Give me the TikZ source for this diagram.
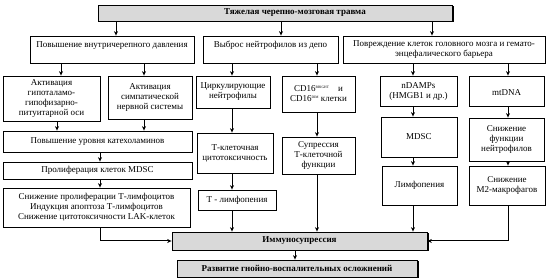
\documentclass[tikz,border=0pt]{standalone}
\usepackage{fontspec}
\setmainfont{Liberation Serif}
\usetikzlibrary{arrows.meta,shadows}
\begin{document}
\begin{tikzpicture}[x=1pt,y=-1pt,
  base/.style={draw, line width=0.8pt, inner sep=0pt, align=center},
  box/.style={base, fill=white, font=\fontsize{9}{10}\selectfont,
    drop shadow={shadow xshift=1pt, shadow yshift=-1pt, opacity=1, fill=black}},
  gbox/.style={base, fill=black!15, font=\fontsize{9}{10}\selectfont\bfseries,
    drop shadow={shadow xshift=1.5pt, shadow yshift=-1.5pt, opacity=1, fill=black}},
  arr/.style={line width=1pt, -{Stealth[length=4.5pt,width=4pt]}}]
\useasboundingbox (0,0) rectangle (550,280);
\newcommand\sups[1]{\raisebox{3.5pt}{\fontsize{3.6}{4}\selectfont #1}}

% top
\node[gbox, minimum width=354, minimum height=16] (top) at (275,13) {\hspace*{40pt}Тяжелая черепно-мозговая травма};
% row 2
\node[box, minimum width=164, minimum height=27] (A) at (112,49.5) {Повышение внутричерепного давления\\~};
\node[box, minimum width=135, minimum height=27] (B) at (270.5,49.5) {Выброс нейтрофилов из депо\\~};
\node[box, minimum width=202, minimum height=27] (C) at (444,49.5) {Повреждение клеток головного мозга и гемато-\\энцефалического барьера};
% row 3
\node[box, minimum width=97, minimum height=45] (act1) at (51.5,98.5) {Активация\\гипоталамо-\\гипофизарно-\\питуитарной оси};
\node[box, minimum width=84, minimum height=43] (act2) at (150,97.5) {Активация\\симпатической\\нервной системы};
\node[box, minimum width=74, minimum height=32] (circ) at (233,92) {Циркулирующие\\нейтрофилы};
\node[box, minimum width=73, minimum height=36] (cd) at (318.5,94) {CD16\sups{BRIGHT}\quad и\\CD16\sups{DIM}\ клетки};
\node[box, minimum width=77, minimum height=30] (nd) at (418.5,91) {nDAMPs\\(HMGB1 и др.)};
\node[box, minimum width=75, minimum height=30] (mt) at (506.5,91) {~\\mtDNA};
% left column
\node[box, minimum width=189, minimum height=21] (cat) at (97.5,141.5) {Повышение уровня катехоламинов};
\node[box, minimum width=189, minimum height=17] (pro) at (97.5,170.5) {Пролиферация клеток MDSC};
\node[box, minimum width=187, minimum height=39] (sn) at (96.5,207.5) {Снижение пролиферации Т-лимфоцитов\\Индукция апоптоза Т-лимфоцитов\\Снижение цитотоксичности LAK-клеток};
% middle
\node[box, minimum width=76, minimum height=40] (tc) at (235,153) {Т-клеточная\\цитотоксичность};
\node[box, minimum width=73, minimum height=37] (sup) at (318.5,155.5) {Супрессия\\Т-клеточной\\функции};
\node[box, minimum width=78, minimum height=20] (tl) at (237,200) {Т - лимфопения};
% right
\node[box, minimum width=76, minimum height=40] (md) at (419,137) {MDSC};
\node[box, minimum width=75, minimum height=43] (fn) at (506.5,139.5) {Снижение\\функции\\нейтрофилов};
\node[box, minimum width=75, minimum height=39] (ly) at (419.5,185.5) {Лимфопения};
\node[box, minimum width=76, minimum height=39] (m2) at (507,185.5) {Снижение\\М2-макрофагов};
% bottom
\node[gbox, minimum width=255, minimum height=18] (imm) at (299.5,241) {Иммуносупрессия};
\node[gbox, minimum width=240, minimum height=17] (dev) at (297,268.5) {Развитие гнойно-воспалительных осложнений};

\coordinate (cA) at (116,0);
\coordinate (cB) at (281,0);
\coordinate (cC) at (432,0);
\coordinate (c61) at (61,0);
\coordinate (c57) at (57,0);
\coordinate (c144) at (144,0);
\coordinate (c100) at (100,0);
\coordinate (c232) at (232,0);
\coordinate (c317) at (317,0);
\coordinate (c413) at (413,0);
\coordinate (c508) at (508,0);
\coordinate (c295) at (295,0);

\draw[arr] (top.south -| cA) -- (A.north -| cA);
\draw[arr] (top.south -| cB) -- (B.north -| cB);
\draw[arr] (top.south -| cC) -- (C.north -| cC);
\draw[arr] (A.south -| c61) -- (act1.north -| c61);
\draw[arr] (A.south -| c144) -- (act2.north -| c144);
\draw[arr] (act1.south -| c57) -- (cat.north -| c57);
\draw[arr] (act2.south -| c144) -- (cat.north -| c144);
\draw[arr] (cat.south -| c100) -- (pro.north -| c100);
\draw[arr] (pro.south -| c100) -- (sn.north -| c100);
\draw[arr] (B.south -| c232) -- (circ.north -| c232);
\draw[arr] (B.south -| c317) -- (cd.north -| c317);
\draw[arr] (circ.south -| c232) -- (tc.north -| c232);
\draw[arr] (tc.south -| c232) -- (tl.north -| c232);
\draw[arr] (tl.south -| c232) -- (imm.north -| c232);
\draw[arr] (cd.south -| c317) -- (sup.north -| c317);
\draw[arr] (sup.south -| c317) -- (imm.north -| c317);
\draw[arr] (C.south -| c413) -- (nd.north -| c413);
\draw[arr] (C.south -| c508) -- (mt.north -| c508);
\draw[arr] (nd.south -| c413) -- (md.north -| c413);
\draw[arr] (md.south -| c413) -- (ly.north -| c413);
\draw[arr] (ly.south -| c413) -- (imm.north -| c413);
\draw[arr] (mt.south -| c508) -- (fn.north -| c508);
\draw[arr] (fn.south -| c508) -- (m2.north -| c508);
\draw[arr] (m2.south -| c508) |- (imm.east);
\draw[arr] (sn.south -| c100) |- (imm.west);
\draw[arr] (imm.south -| c295) -- (dev.north -| c295);
\end{tikzpicture}
\end{document}
